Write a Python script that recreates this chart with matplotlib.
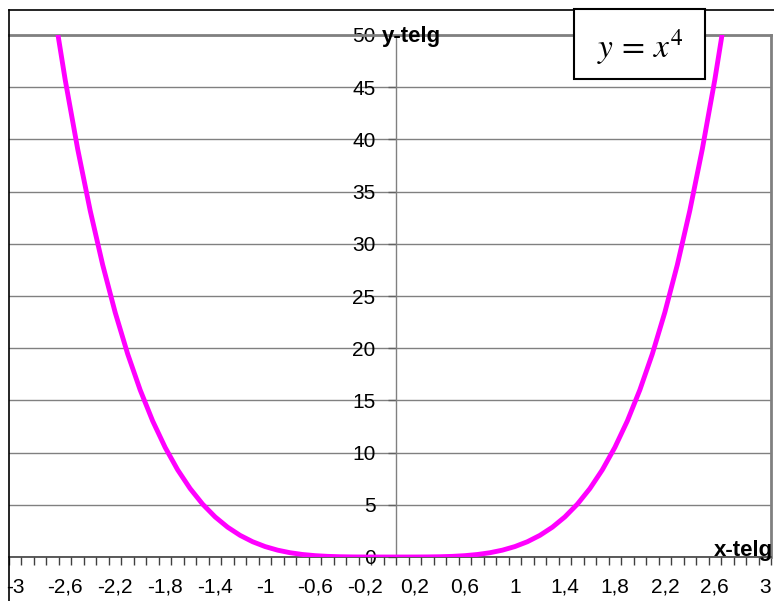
import matplotlib
matplotlib.use("Agg")
import matplotlib.pyplot as plt
from matplotlib.lines import Line2D
from matplotlib.patches import Rectangle
import numpy as np

plt.rcParams['font.family'] = ['Liberation Sans', 'DejaVu Sans']
plt.rcParams['mathtext.fontset'] = 'stix'

# data (x step 0.1)
x_vals = [-3.0, -2.9, -2.8, -2.7, -2.6, -2.5, -2.4, -2.3, -2.2, -2.1,
          -2.0, -1.9, -1.8, -1.7, -1.6, -1.5, -1.4, -1.3, -1.2, -1.1,
          -1.0, -0.9, -0.8, -0.7, -0.6, -0.5, -0.4, -0.3, -0.2, -0.1,
          0.0, 0.1, 0.2, 0.3, 0.4, 0.5, 0.6, 0.7, 0.8, 0.9,
          1.0, 1.1, 1.2, 1.3, 1.4, 1.5, 1.6, 1.7, 1.8, 1.9,
          2.0, 2.1, 2.2, 2.3, 2.4, 2.5, 2.6, 2.7, 2.8, 2.9, 3.0]
y_vals = [81, 70.7281, 61.4656, 53.1441, 45.6976, 39.0625, 33.1776, 27.9841, 23.4256, 19.4481,
          16, 13.0321, 10.4976, 8.3521, 6.5536, 5.0625, 3.8416, 2.8561, 2.0736, 1.4641,
          1, 0.6561, 0.4096, 0.2401, 0.1296, 0.0625, 0.0256, 0.0081, 0.0016, 0.0001,
          0, 0.0001, 0.0016, 0.0081, 0.0256, 0.0625, 0.1296, 0.2401, 0.4096, 0.6561,
          1, 1.4641, 2.0736, 2.8561, 3.8416, 5.0625, 6.5536, 8.3521, 10.4976, 13.0321,
          16, 19.4481, 23.4256, 27.9841, 33.1776, 39.0625, 45.6976, 53.1441, 61.4656, 70.7281, 81]
x_tick_pos = [-3, -2.6, -2.2, -1.8, -1.4, -1, -0.6, -0.2, 0.2, 0.6, 1, 1.4, 1.8, 2.2, 2.6, 3]
x_tick_labels = ['-3', '-2,6', '-2,2', '-1,8', '-1,4', '-1', '-0,6', '-0,2',
                 '0,2', '0,6', '1', '1,4', '1,8', '2,2', '2,6', '3']
y_ticks = [0, 5, 10, 15, 20, 25, 30, 35, 40, 45, 50]

W, H = 774, 601
fig = plt.figure(figsize=(W / 100, H / 100), dpi=100)
l, r, t, b = 9, 771, 35, 557
ax = fig.add_axes([l / W, 1 - b / H, (r - l) / W, (b - t) / H])

ax.plot(x_vals, y_vals, color='#FF00FF', lw=3.5, solid_capstyle='butt', zorder=3)

ax.set_xlim(-3.05, 3.05)
ax.set_ylim(0, 50)

# category style axis: ticks between points, labels on points
ax.set_xticks(x_tick_pos)
ax.set_xticklabels(x_tick_labels)
ax.set_xticks(np.arange(62) * 0.1 - 3.05, minor=True)
ax.tick_params(axis='x', which='major', length=0, pad=15, labelsize=15)
ax.tick_params(axis='x', which='minor', length=6, width=1, color='#404040', direction='out')

ax.set_yticks(y_ticks)
ax.tick_params(axis='y', which='major', length=6, width=1, color='#606060',
               direction='out', pad=9, labelsize=15)
ax.grid(axis='y', color='#808080', lw=1)
ax.set_axisbelow(True)

ax.spines['left'].set_position(('data', 0.05))
ax.spines['left'].set_color('#808080')
ax.spines['left'].set_linewidth(1)
ax.spines['bottom'].set_color('#404040')
ax.spines['bottom'].set_linewidth(1.2)
ax.spines['top'].set_color('#808080')
ax.spines['top'].set_linewidth(2)
ax.spines['right'].set_color('#808080')
ax.spines['right'].set_linewidth(2)

# axis titles
fig.text(382 / W, 1 - 42 / H, 'y-telg', fontsize=16, fontweight='bold', ha='left', va='baseline')
fig.text(714 / W, 1 - 556 / H, 'x-telg', fontsize=16, fontweight='bold', ha='left', va='baseline')

# chart area frame (top and left)
fig.add_artist(Line2D([9 / W, 1], [1 - 9.5 / H, 1 - 9.5 / H], color='k', lw=1.2))
fig.add_artist(Line2D([9 / W, 9 / W], [0, 1 - 9.5 / H], color='k', lw=1.2))

# equation box
fig.add_artist(Rectangle((574 / W, 1 - 79 / H), 131 / W, 70 / H, transform=fig.transFigure,
                         facecolor='white', edgecolor='k', lw=1.5, zorder=5))
fig.text(640 / W, 1 - 47 / H, r'$y\,=\,x^4$', fontsize=24, ha='center', va='center', zorder=6)

fig.savefig('out.png', dpi=100)
